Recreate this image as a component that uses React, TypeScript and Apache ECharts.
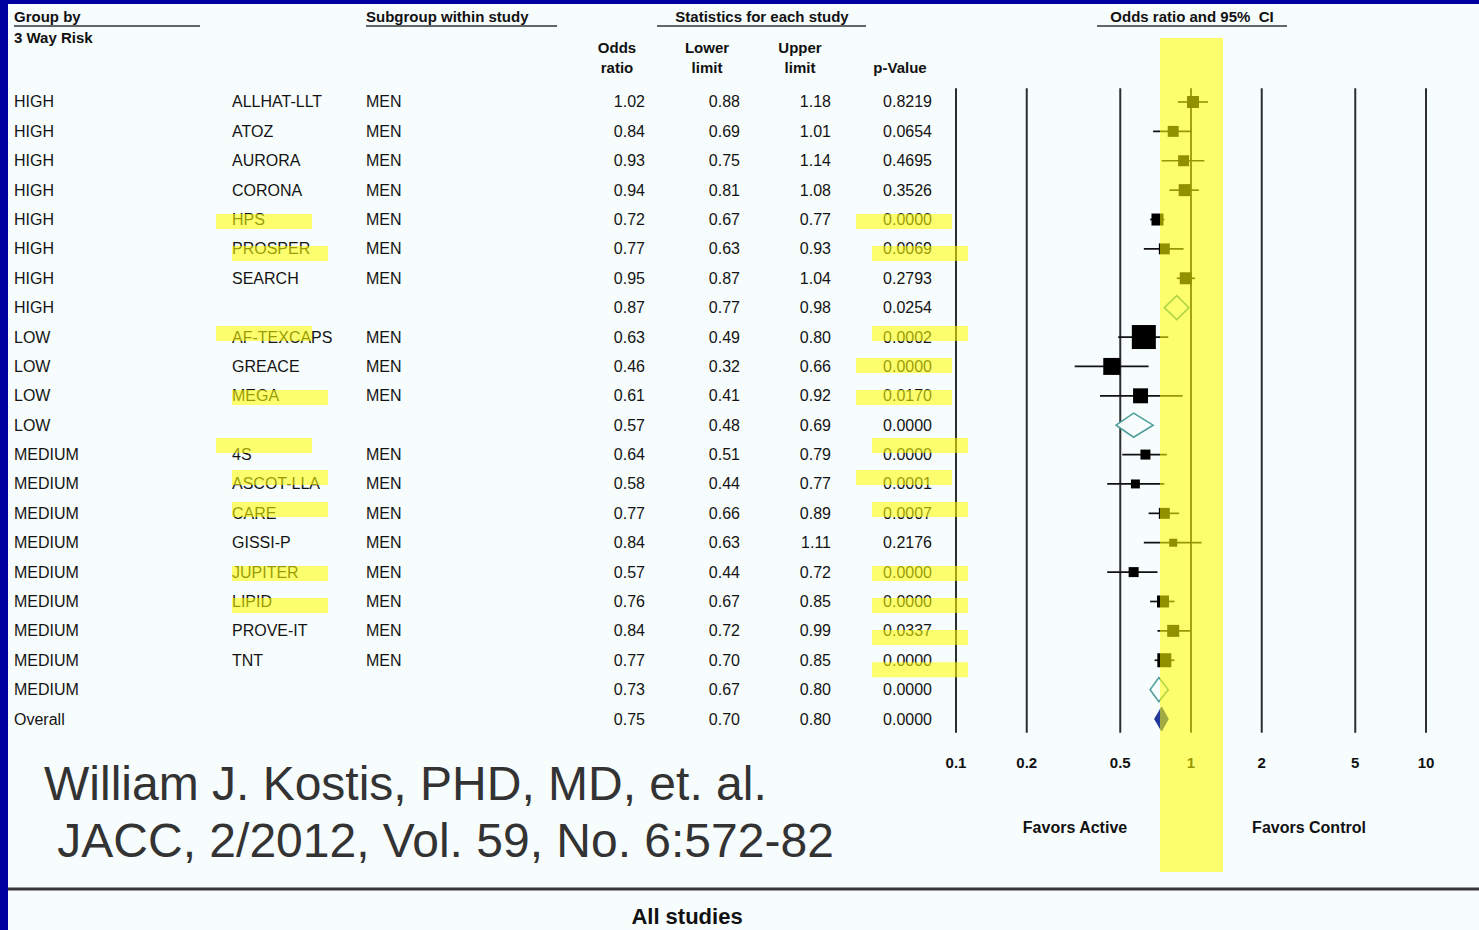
import React, { useEffect, useRef } from 'react';
import * as echarts from 'echarts';

// ---------- DATA ----------
const groups = ['HIGH', 'HIGH', 'HIGH', 'HIGH', 'HIGH', 'HIGH', 'HIGH', 'HIGH', 'LOW', 'LOW', 'LOW', 'LOW', 'MEDIUM', 'MEDIUM', 'MEDIUM', 'MEDIUM', 'MEDIUM', 'MEDIUM', 'MEDIUM', 'MEDIUM', 'MEDIUM', 'Overall'];
const studies = ['ALLHAT-LLT', 'ATOZ', 'AURORA', 'CORONA', 'HPS', 'PROSPER', 'SEARCH', '', 'AF-TEXCAPS', 'GREACE', 'MEGA', '', '4S', 'ASCOT-LLA', 'CARE', 'GISSI-P', 'JUPITER', 'LIPID', 'PROVE-IT', 'TNT', '', ''];
const subgroups = ['MEN', 'MEN', 'MEN', 'MEN', 'MEN', 'MEN', 'MEN', '', 'MEN', 'MEN', 'MEN', '', 'MEN', 'MEN', 'MEN', 'MEN', 'MEN', 'MEN', 'MEN', 'MEN', '', ''];
const oddsRatio = [1.02, 0.84, 0.93, 0.94, 0.72, 0.77, 0.95, 0.87, 0.63, 0.46, 0.61, 0.57, 0.64, 0.58, 0.77, 0.84, 0.57, 0.76, 0.84, 0.77, 0.73, 0.75];
const lowerLimit = [0.88, 0.69, 0.75, 0.81, 0.67, 0.63, 0.87, 0.77, 0.49, 0.32, 0.41, 0.48, 0.51, 0.44, 0.66, 0.63, 0.44, 0.67, 0.72, 0.70, 0.67, 0.70];
const upperLimit = [1.18, 1.01, 1.14, 1.08, 0.77, 0.93, 1.04, 0.98, 0.80, 0.66, 0.92, 0.69, 0.79, 0.77, 0.89, 1.11, 0.72, 0.85, 0.99, 0.85, 0.80, 0.80];
const pValues = ['0.8219', '0.0654', '0.4695', '0.3526', '0.0000', '0.0069', '0.2793', '0.0254', '0.0002', '0.0000', '0.0170', '0.0000', '0.0000', '0.0001', '0.0007', '0.2176', '0.0000', '0.0000', '0.0337', '0.0000', '0.0000', '0.0000'];
const rowKind = ['study', 'study', 'study', 'study', 'study', 'study', 'study', 'summary', 'study', 'study', 'study', 'summary', 'study', 'study', 'study', 'study', 'study', 'study', 'study', 'study', 'summary', 'overall'];
const relativeWeight = [36, 30, 30, 36, 36, 30, 36, 0, 144, 72, 56, 0, 25, 20, 30, 16, 25, 36, 36, 49, 0, 0];
const axisTicks = [0.1, 0.2, 0.5, 1, 2, 5, 10];
const axisTickLabels = ['0.1', '0.2', '0.5', '1', '2', '5', '10'];
const studyHighlightRows = [4, 5, 8, 10, 12, 13, 14, 16, 17];
const pHighlightRows = [4, 5, 8, 9, 10, 12, 13, 14, 16, 17, 18, 19];

// ---------- LAYOUT ----------
const FONT = '"Liberation Sans", Arial, Helvetica, sans-serif';
const L = {
  gridLeft: 956, gridWidth: 470, gridTop: 87.3, gridHeight: 646.4,
  colGroup: 14, colStudy: 232, colSub: 366, colOR: 645, colLo: 740, colHi: 831, colP: 932,
};
const HL_DY: Record<number, number> = { 4: -5.5, 5: -3, 8: -11, 9: -8.4, 10: -5.8, 12: -16.6, 13: -14, 14: -11.3, 16: -6, 17: -3.5, 18: -0.8, 19: 2 };
const HL_STUDY_X: Record<number, number> = { 4: 216, 8: 216, 12: 216 };
const HL_P_X: Record<number, number> = { 4: 856, 9: 856, 10: 856, 13: 856 };
const HL_FILL = 'rgba(255,255,0,0.57)';

function txt(x: number, y: number, text: string, align: string, font: string, fill = '#141414', z2 = 0) {
  return {
    type: 'text', x, y, z2,
    style: { text, fill, font, align, verticalAlign: 'middle', textAlign: align, textVerticalAlign: 'middle' },
  };
}
function gline(x1: number, y1: number, x2: number, y2: number, w: number, c: string) {
  return { type: 'line', shape: { x1, y1, x2, y2 }, style: { stroke: c, lineWidth: w } };
}

export default function App() {
  const ref = useRef<HTMLDivElement>(null);
  useEffect(() => {
    document.body.style.margin = '0';
    if (!ref.current) return;
    const chart = echarts.init(ref.current, undefined, { renderer: 'svg' });
    const tableFont = `16px ${FONT}`;
    const headFont = `bold 15px ${FONT}`;

    const option: any = {
      animation: false,
      backgroundColor: '#F7FCFD',
      grid: { left: L.gridLeft, width: L.gridWidth, top: L.gridTop, height: L.gridHeight },
      xAxis: { type: 'log', logBase: 10, min: 0.1, max: 10, show: false },
      yAxis: { type: 'category', inverse: true, show: false, data: groups.map((_, i) => String(i)) },
      series: [
        {
          type: 'custom', name: 'refLines', z: 1,
          data: axisTicks.map((v, i) => [v, 0, i]),
          encode: { x: 0, y: 1 },
          renderItem: (params: any, api: any) => {
            const v = api.value(0);
            const idx = api.value(2);
            const cs = params.coordSys;
            const x = api.coord([v, 0])[0];
            return {
              type: 'group',
              children: [
                gline(x, cs.y + 1, x, cs.y + cs.height - 1, 2, '#2e2e2e'),
                txt(x, cs.y + cs.height + 28.5, axisTickLabels[idx], 'center', `bold 15px ${FONT}`, '#111'),
              ],
            };
          },
        },
        {
          type: 'custom', name: 'forest', z: 3,
          data: oddsRatio.map((v, i) => [v, i, lowerLimit[i], upperLimit[i], relativeWeight[i]]),
          encode: { x: [0, 2, 3], y: 1 },
          renderItem: (params: any, api: any) => {
            const or = api.value(0);
            const i = api.value(1);
            const lo = api.value(2);
            const hi = api.value(3);
            const w = api.value(4);
            const kind = rowKind[i];
            const p = api.coord([or, i]);
            const pl = api.coord([lo, i]);
            const ph = api.coord([hi, i]);
            const y = p[1];
            if (kind === 'study') {
              const s = 2 * Math.sqrt(w);
              return {
                type: 'group',
                children: [
                  gline(pl[0], y, ph[0], y, 1.7, '#111'),
                  { type: 'rect', shape: { x: p[0] - s / 2, y: y - s / 2, width: s, height: s }, style: { fill: '#000' } },
                ],
              };
            }
            const h = 12;
            const style = kind === 'overall'
              ? { fill: '#24389c', stroke: '#24389c', lineWidth: 1 }
              : { fill: '#F7FCFD', stroke: '#4f9f9b', lineWidth: 1.6 };
            return {
              type: 'polygon',
              shape: { points: [[pl[0], y], [p[0], y - h], [ph[0], y], [p[0], y + h]] },
              style,
            };
          },
        },
        {
          type: 'custom', name: 'table', z: 2,
          data: groups.map((_, i) => [1, i]),
          encode: { x: 0, y: 1 },
          renderItem: (params: any, api: any) => {
            const i = api.value(1);
            const y = api.coord([1, i])[1];
            return {
              type: 'group',
              children: [
                txt(L.colGroup, y, groups[i], 'left', tableFont),
                txt(L.colStudy, y, studies[i], 'left', tableFont),
                txt(L.colSub, y, subgroups[i], 'left', tableFont),
                txt(L.colOR, y, oddsRatio[i].toFixed(2), 'right', tableFont),
                txt(L.colLo, y, lowerLimit[i].toFixed(2), 'right', tableFont),
                txt(L.colHi, y, upperLimit[i].toFixed(2), 'right', tableFont),
                txt(L.colP, y, pValues[i], 'right', tableFont),
              ],
            };
          },
        },
        {
          type: 'custom', name: 'highlights', z: 50,
          data: [
            ...studyHighlightRows.map((r) => [1, r, 0]),
            ...pHighlightRows.map((r) => [1, r, 1]),
          ],
          encode: { x: 0, y: 1 },
          renderItem: (params: any, api: any) => {
            const r = api.value(1);
            const col = api.value(2);
            const y = api.coord([1, r])[1] + (HL_DY[r] ?? -7);
            const x = col === 0 ? (HL_STUDY_X[r] ?? 232) : (HL_P_X[r] ?? 872);
            return { type: 'rect', shape: { x, y, width: 96, height: 15 }, style: { fill: HL_FILL } };
          },
        },
      ],
      graphic: [
        // frame
        { type: 'rect', shape: { x: 0, y: 0, width: 1479, height: 4 }, style: { fill: '#0000A0' }, z: 200 },
        { type: 'rect', shape: { x: 0, y: 0, width: 8, height: 930 }, style: { fill: '#0000A0' }, z: 200 },
        // headers
        txt(14, 16, 'Group by', 'left', headFont, '#111'),
        gline(14, 26, 200, 26, 1.5, '#333'),
        txt(14, 37, '3 Way Risk', 'left', headFont, '#111'),
        txt(366, 16, 'Subgroup within study', 'left', headFont, '#111'),
        gline(366, 26, 557, 26, 1.5, '#333'),
        txt(762, 16, 'Statistics for each study', 'center', headFont, '#111'),
        gline(657, 26, 866, 26, 1.5, '#333'),
        txt(1192, 16, 'Odds ratio and 95%  CI', 'center', headFont, '#111'),
        gline(1097, 26, 1287, 26, 1.5, '#333'),
        txt(617, 47, 'Odds', 'center', headFont, '#111'),
        txt(617, 67, 'ratio', 'center', headFont, '#111'),
        txt(707, 47, 'Lower', 'center', headFont, '#111'),
        txt(707, 67, 'limit', 'center', headFont, '#111'),
        txt(800, 47, 'Upper', 'center', headFont, '#111'),
        txt(800, 67, 'limit', 'center', headFont, '#111'),
        txt(900, 67, 'p-Value', 'center', headFont, '#111'),
        // favors labels
        txt(1075, 827, 'Favors Active', 'center', `bold 16px ${FONT}`, '#111'),
        txt(1309, 827, 'Favors Control', 'center', `bold 16px ${FONT}`, '#111'),
        // citation
        txt(44, 783, 'William J. Kostis, PHD, MD, et. al.', 'left', `48px ${FONT}`, '#333'),
        txt(44, 840, ' JACC, 2/2012, Vol. 59, No. 6:572-82', 'left', `48px ${FONT}`, '#333'),
        // bottom rule + footer
        gline(8, 889, 1479, 889, 3, '#383838'),
        txt(687, 916, 'All studies', 'center', `bold 22px ${FONT}`, '#111'),
        // yellow band overlay
        { type: 'rect', shape: { x: 1160, y: 38, width: 63, height: 834 }, style: { fill: HL_FILL }, z: 100 },
      ],
    };
    chart.setOption(option);
    return () => chart.dispose();
  }, []);
  return <div ref={ref} style={{ width: 1479, height: 930 }} />;
}
